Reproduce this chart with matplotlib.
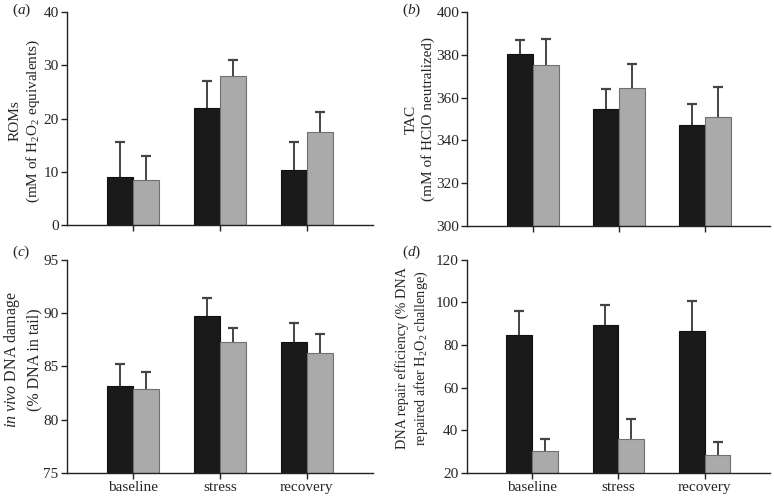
import matplotlib
matplotlib.use("Agg")
import matplotlib.pyplot as plt
import numpy as np

plt.rcParams['font.family'] = ['Liberation Serif', 'DejaVu Serif']
plt.rcParams['mathtext.fontset'] = 'custom'
plt.rcParams['mathtext.rm'] = 'Liberation Serif'
plt.rcParams['mathtext.it'] = 'Liberation Serif:italic'

categories = ["baseline", "stress", "recovery"]

# panel (a) ROMs
a_black = [9.05, 22.05, 10.3]
a_black_err = [6.55, 5.0, 5.3]
a_gray = [8.4, 27.9, 17.5]
a_gray_err = [4.5, 3.0, 3.75]

# panel (b) TAC
b_black = [380.3, 354.9, 347.1]
b_black_err = [6.4, 9.2, 9.8]
b_gray = [375.2, 364.6, 350.9]
b_gray_err = [12.0, 11.1, 14.0]

# panel (c) in vivo DNA damage
c_black = [83.2, 89.7, 87.3]
c_black_err = [2.0, 1.7, 1.8]
c_gray = [82.9, 87.3, 86.25]
c_gray_err = [1.6, 1.3, 1.75]

# panel (d) DNA repair efficiency
d_black = [84.8, 89.2, 86.4]
d_black_err = [11.0, 9.55, 14.1]
d_gray = [30.2, 35.9, 28.6]
d_gray_err = [5.9, 9.6, 5.9]

panels = [
    dict(label="a", black=a_black, berr=a_black_err, gray=a_gray, gerr=a_gray_err,
         ylim=(0, 40), yticks=[0, 10, 20, 30, 40],
         ylabel="ROMs\n(mM of H$_2$O$_2$ equivalents)", ylsize=11, yly=0.49, lp=1,
         pos=[0.0866, 0.546, 0.395, 0.430], xlabels=False, lx=0.015, ly=0.980),
    dict(label="b", black=b_black, berr=b_black_err, gray=b_gray, gerr=b_gray_err,
         ylim=(300, 400), yticks=[300, 320, 340, 360, 380, 400],
         ylabel="TAC\n(mM of HClO neutralized)", ylsize=11, yly=0.5, lp=1,
         pos=[0.604, 0.544, 0.391, 0.432], xlabels=False, lx=0.520, ly=0.980),
    dict(label="c", black=c_black, berr=c_black_err, gray=c_gray, gerr=c_gray_err,
         ylim=(75, 95), yticks=[75, 80, 85, 90, 95],
         ylabel="$\\it{in\\ vivo}$ DNA damage\n(% DNA in tail)", ylsize=11.5, yly=0.53, lp=1,
         pos=[0.0866, 0.0464, 0.395, 0.430], xlabels=True, lx=0.015, ly=0.492),
    dict(label="d", black=d_black, berr=d_black_err, gray=d_gray, gerr=d_gray_err,
         ylim=(20, 120), yticks=[20, 40, 60, 80, 100, 120],
         ylabel="DNA repair efficiency (% DNA\nrepaired after H$_2$O$_2$ challenge)",
         ylsize=10.3, yly=0.54, lp=4,
         pos=[0.603, 0.0464, 0.392, 0.430], xlabels=True, lx=0.520, ly=0.492),
]

fig = plt.figure(figsize=(7.74, 4.96), dpi=100)
txt = '#262626'
ecol = '#444444'
x = np.arange(len(categories))
w = 0.3
for p in panels:
    ax = fig.add_axes(p['pos'])
    for xs, vals, errs, fc, ec in [(x - w/2, p['black'], p['berr'], '#1a1a1a', '#111111'),
                                  (x + w/2, p['gray'], p['gerr'], '#aaaaaa', '#707070')]:
        vals = np.asarray(vals)
        errs = np.asarray(errs)
        ax.vlines(xs, vals, vals + errs, colors=ecol, linewidth=1.4, zorder=1)
        ax.plot(xs, vals + errs, linestyle='none', marker='_', markersize=6.5,
                markeredgewidth=1.6, color=ecol, zorder=1)
        ax.bar(xs, vals, width=w, color=fc, edgecolor=ec, linewidth=0.8, zorder=2)
    ax.set_xlim(-0.76, 2.76)
    ax.set_ylim(*p['ylim'])
    ax.set_yticks(p['yticks'])
    ax.set_xticks(x)
    if p['xlabels']:
        ax.set_xticklabels(categories)
    else:
        ax.set_xticklabels([])
    for s in ['top', 'right']:
        ax.spines[s].set_visible(False)
    for s in ['left', 'bottom']:
        ax.spines[s].set_color('#222222')
        ax.spines[s].set_linewidth(1.0)
    ax.tick_params(axis='both', direction='out', length=4, width=1.0, color='#222222',
                   labelsize=11, labelcolor=txt, pad=2)
    ax.set_ylabel(p['ylabel'], fontsize=p['ylsize'], color=txt, linespacing=1.3,
                  labelpad=p['lp'])
    ax.yaxis.label.set_y(p['yly'])
    fig.text(p['lx'], p['ly'], "($\\it{%s}$)" % p['label'], fontsize=11, color=txt,
             va='center', ha='left')

fig.savefig("out.png", dpi=100)
